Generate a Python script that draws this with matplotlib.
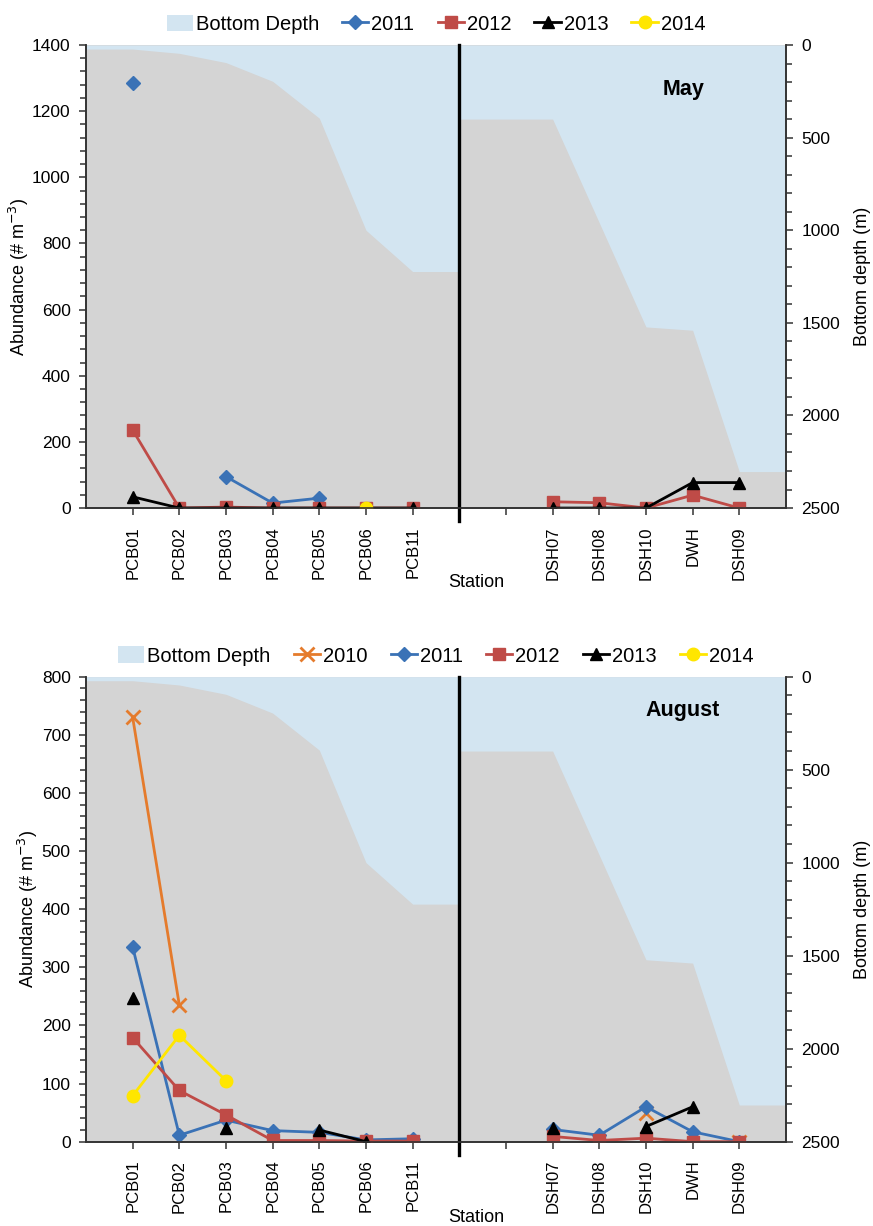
import matplotlib.pyplot as plt
import matplotlib.ticker as mticker
import numpy as np
from matplotlib.patches import Patch

plt.rcParams["font.family"] = ["Liberation Sans", "DejaVu Sans"]

nan = np.nan

# stations: shelf (PCB) and deep (DSH/DWH), two blank categories between them
shelf_stations = ["PCB01", "PCB02", "PCB03", "PCB04", "PCB05", "PCB06", "PCB11"]
deep_stations = ["DSH07", "DSH08", "DSH10", "DWH", "DSH09"]
shelf_depth = [22, 45, 95, 196, 395, 1000, 1223]
deep_depth = [400, 960, 1522, 1540, 2303]

# abundance (# m-3), shelf stations then deep stations
may = {
    "2011": [1285, nan, 95, 15, 30, nan, nan, nan, nan, nan, nan, nan],
    "2012": [236, 0, 3, 0, 0, 0, 0, 19, 16, 0, 39, 0],
    "2013": [34, 0, 0, 0, 0, 0, 0, 0, 0, 0, 77, 77],
    "2014": [nan, nan, nan, nan, nan, 0, nan, nan, nan, nan, nan, nan],
}
august = {
    "2010": [730, 235, nan, nan, nan, nan, nan, nan, nan, 50, nan, 0],
    "2011": [335, 11, 37, 19, 16, 3, 5, 21, 11, 60, 17, 0],
    "2012": [179, 88, 46, 2, 2, 1, 1, 9, 2, 6, 0, 0],
    "2013": [247, nan, 23, nan, 20, 0, nan, 23, nan, 26, 60, nan],
    "2014": [79, 183, 105, nan, nan, nan, nan, nan, nan, nan, nan, nan],
}

styles = {
    "2010": dict(color="#E57B2C", marker="x", markersize=9.5, markeredgewidth=2),
    "2011": dict(color="#3A72B6", marker="D", markersize=7.5),
    "2012": dict(color="#BF4B47", marker="s", markersize=8),
    "2013": dict(color="black", marker="^", markersize=9),
    "2014": dict(color="#FFE600", marker="o", markersize=9),
}

BLUE_FILL = "#D3E5F1"
GREY_FILL = "#D4D4D4"
SPINE = "#333333"

n_shelf = len(shelf_stations)
gap = 2
positions = np.arange(n_shelf + gap + len(deep_stations))
labels = shelf_stations + [""] * gap + deep_stations


def with_gap(values):
    return np.r_[values[:n_shelf], [nan] * gap, values[n_shelf:]]


def draw_panel(fig, rect, data, ymax, major, minor, month, month_y, station_y):
    ax = fig.add_axes(rect)
    depth_ax = ax.twinx()
    ax.set_zorder(depth_ax.get_zorder() + 1)
    ax.patch.set_visible(False)
    depth_ax.patch.set_visible(True)
    depth_ax.patch.set_facecolor(GREY_FILL)

    # water column from the surface down to the bottom depth
    split = n_shelf
    depth_x = np.r_[-1, positions[:n_shelf], split, split,
                    positions[n_shelf + gap:], positions[-1] + 1]
    depth_y = np.r_[shelf_depth[0], shelf_depth, shelf_depth[-1], deep_depth[0],
                    deep_depth, deep_depth[-1]]
    depth_ax.fill_between(depth_x, 0, depth_y, color=BLUE_FILL, linewidth=0)
    depth_ax.set_ylim(2500, 0)
    depth_ax.yaxis.set_major_locator(mticker.MultipleLocator(500))
    depth_ax.yaxis.set_minor_locator(mticker.MultipleLocator(100))
    depth_ax.set_ylabel("Bottom depth (m)", fontsize=13, labelpad=10)

    handles = [Patch(facecolor=BLUE_FILL, edgecolor="none", label="Bottom Depth")]
    for year, values in data.items():
        (line,) = ax.plot(positions, with_gap(values), linewidth=2, label=year,
                          **styles[year])
        handles.append(line)

    ax.axvline(split, ymin=-0.028, ymax=1, color="black", linewidth=2.4,
               clip_on=False)

    ax.set_xlim(-1, positions[-1] + 1)
    ax.set_ylim(0, ymax)
    ax.yaxis.set_major_locator(mticker.MultipleLocator(major))
    ax.yaxis.set_minor_locator(mticker.MultipleLocator(minor))
    ax.set_xticks(positions)
    ax.set_xticklabels(labels, rotation=90, fontsize=12)
    ax.set_ylabel("Abundance (# m$^{-3}$)", fontsize=13, labelpad=1)
    ax.set_xlabel("Station", fontsize=13, va="center")
    ax.xaxis.set_label_coords(0.558, station_y)

    for a in (ax, depth_ax):
        a.spines["top"].set_visible(False)
        for side in ("left", "right", "bottom"):
            a.spines[side].set_color(SPINE)
            a.spines[side].set_linewidth(1.2)
        a.tick_params(which="both", direction="out", color=SPINE, width=1.1)
        a.tick_params(which="major", length=5, labelsize=12.5, pad=6)
        a.tick_params(which="minor", length=4)
    ax.tick_params(axis="x", pad=8, labelsize=12)

    ax.text(0.853, month_y, month, transform=ax.transAxes, fontsize=15.5,
            fontweight="bold", ha="center", va="center")

    ax.legend(handles=handles, loc="lower center", bbox_to_anchor=(0.5, 1.0),
              ncol=len(handles), frameon=False, fontsize=14.5, handlelength=1.3,
              handletextpad=0.15, columnspacing=1.15, borderaxespad=0.15,
              handleheight=0.9)
    return ax


fig = plt.figure(figsize=(8.73, 12.26), dpi=100)
draw_panel(fig, [0.0985, 0.5856, 0.8018, 0.3777], may, 1400, 200, 40, "May",
           0.903, -0.160)
draw_panel(fig, [0.0985, 0.0688, 0.8018, 0.3793], august, 800, 100, 20, "August",
           0.928, -0.164)
fig.savefig("out.png", dpi=100)
